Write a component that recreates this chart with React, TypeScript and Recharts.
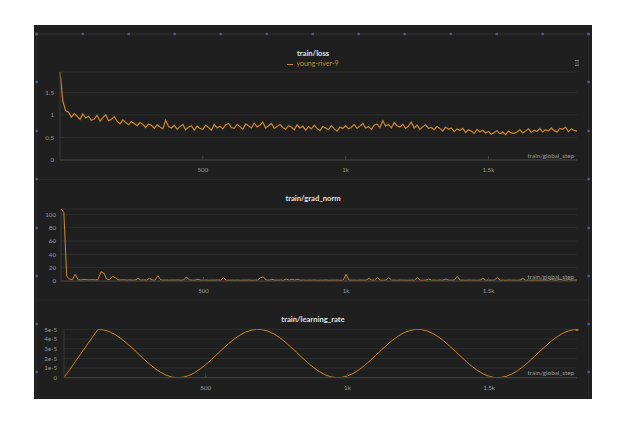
import { LineChart, Line, XAxis, YAxis, CartesianGrid } from 'recharts';

// logged every 10 steps, 0 .. 1810
const STEP_EVERY = 10;
const LR_EVERY = 20;

const lossValues = [
  1.95, 1.3, 1.09, 1.06, 0.95, 1.03, 0.97, 0.9, 1.02, 0.93,
  0.97, 0.88, 0.91, 0.99, 0.86, 0.94, 1.0, 0.87, 0.9, 0.96,
  0.86, 0.8, 0.89, 0.83, 0.78, 0.85, 0.81, 0.76, 0.83, 0.79,
  0.72, 0.8, 0.77, 0.7, 0.78, 0.73, 0.69, 0.88, 0.74, 0.71,
  0.77, 0.68, 0.74, 0.79, 0.67, 0.73, 0.76, 0.66, 0.75, 0.7,
  0.68, 0.77, 0.72, 0.66, 0.79, 0.71, 0.75, 0.69, 0.78, 0.81,
  0.72, 0.7, 0.79, 0.74, 0.68, 0.8, 0.76, 0.71, 0.82, 0.73,
  0.77, 0.84, 0.71, 0.76, 0.81, 0.7, 0.74, 0.79, 0.72, 0.68,
  0.76, 0.73, 0.67, 0.78, 0.71, 0.75, 0.66, 0.74, 0.69, 0.77,
  0.7, 0.65, 0.74, 0.71, 0.67, 0.76, 0.69, 0.64, 0.73, 0.7,
  0.76, 0.69, 0.72, 0.79, 0.7, 0.75, 0.81, 0.71, 0.74, 0.68,
  0.77, 0.8, 0.72, 0.87, 0.75, 0.79, 0.71, 0.83, 0.76, 0.73,
  0.79, 0.7, 0.75, 0.84, 0.71, 0.77, 0.68, 0.74, 0.78, 0.7,
  0.72, 0.67, 0.74, 0.7, 0.64, 0.73, 0.68, 0.71, 0.63, 0.69,
  0.66, 0.7, 0.61, 0.67, 0.64, 0.59, 0.68, 0.62, 0.66, 0.6,
  0.63, 0.57, 0.61, 0.65, 0.58, 0.62, 0.56, 0.64, 0.6, 0.59,
  0.62, 0.67, 0.6, 0.64, 0.69, 0.61, 0.66, 0.63, 0.7, 0.62,
  0.67, 0.64, 0.71, 0.65, 0.62, 0.7, 0.68, 0.73, 0.63, 0.69,
  0.66, 0.64,
];

const gradNormValues = [
  108, 103, 7, 3, 2, 10, 2, 1.5, 2.5, 1.8,
  1.6, 2, 1.5, 2.2, 14, 12, 3, 2, 7, 5,
  2, 1.5, 1.8, 1.4, 1.6, 1.3, 1.5, 4, 1.4, 1.6,
  1.3, 4, 1.5, 1.4, 8, 1.6, 1.3, 1.5, 1.2, 1.4,
  1.3, 1.5, 1.2, 1.4, 6, 1.6, 1.3, 1.2, 2.5, 1.3,
  1.2, 1.4, 1.1, 1.3, 1.2, 1.5, 1.2, 5, 1.3, 1.1,
  1.3, 1.2, 1.4, 1.1, 1.3, 1.2, 1.4, 1.1, 1.3, 1.5,
  5, 6, 1.4, 1.2, 2.5, 1.3, 1.2, 1.4, 1.1, 3,
  1.2, 2.8, 1.3, 2.5, 1.2, 1.4, 1.1, 1.3, 1.2, 1.4,
  1.1, 1.3, 1.2, 1.5, 1.1, 1.3, 1.2, 1.4, 1.1, 1.3,
  10, 1.4, 1.2, 1.3, 1.1, 1.4, 1.2, 1.3, 4, 1.2,
  1.4, 5, 1.3, 1.1, 1.4, 5, 1.2, 1.3, 1.1, 1.4,
  1.2, 1.3, 1.1, 1.4, 1.2, 5, 1.3, 1.1, 1.4, 3,
  1.2, 1.3, 1.1, 1.4, 1.2, 3, 1.3, 1.1, 1.4, 7,
  1.2, 1.3, 1.1, 1.4, 1.2, 1.3, 1.1, 1.4, 4, 1.2,
  1.3, 1.1, 1.4, 5, 1.2, 1.3, 1.1, 1.4, 1.2, 1.3,
  1.1, 1.4, 4, 1.2, 1.3, 1.1, 1.4, 1.2, 1.3, 1.1,
  1.4, 1.2, 2.5, 1.3, 1.1, 2.8, 1.2, 1.3, 2.2, 1.2,
  1.4, 1.3,
];

// learning rate in units of 1e-5, logged every 20 steps, 0 .. 1800
const lrValues = [
  0, 0.83, 1.67, 2.5, 3.33, 4.17,
  5.0, 4.94, 4.76, 4.46, 4.07, 3.6, 3.08, 2.53, 1.97, 1.45,
  0.97, 0.57, 0.27, 0.07, 0.0, 0.05, 0.22, 0.5, 0.89, 1.35,
  1.87, 2.42, 2.97, 3.5, 3.98, 4.39, 4.71, 4.91, 5.0, 4.96,
  4.8, 4.53, 4.16, 3.7, 3.19, 2.64, 2.08, 1.55, 1.06, 0.65,
  0.32, 0.1, 0.01, 0.03, 0.18, 0.44, 0.8, 1.25, 1.76, 2.31,
  2.86, 3.4, 3.89, 4.32, 4.65, 4.88, 4.99, 4.98, 4.84, 4.59,
  4.24, 3.8, 3.29, 2.75, 2.19, 1.65, 1.15, 0.72, 0.38, 0.14,
  0.02, 0.02, 0.14, 0.38, 0.72, 1.15, 1.65, 2.19, 2.75, 3.29,
  3.8, 4.24, 4.59, 4.84, 4.98,
];
const LR_LAST_STEP = 1810;
const LR_LAST_VALUE = 5.0;

const xTicks = [500, 1000, 1500];
const lossTicks = [0, 0.5, 1, 1.5];
const gradTicks = [0, 20, 40, 60, 80, 100];
const lrTicks = [0, 1, 2, 3, 4, 5];

const X_MAX = 1810;
const LINE = '#cc872e';
const BG = '#1f1f1f';
const GRID = '#2e2e2e';
const AXIS = '#444';
const TICK = '#9a9a9a';
const FONT = "Lato, 'Open Sans', sans-serif";

const lossData = lossValues.map((v, i) => ({ step: i * STEP_EVERY, value: v }));
const gradData = gradNormValues.map((v, i) => ({ step: i * STEP_EVERY, value: v }));
const lrData = lrValues
  .map((v, i) => ({ step: i * LR_EVERY, value: v }))
  .concat([{ step: LR_LAST_STEP, value: LR_LAST_VALUE }]);

const fmtStep = (v: number) => (v >= 1000 ? `${v / 1000}k` : `${v}`);
const fmtLr = (v: number) => (v === 0 ? '0' : `${v}e-5`);

const tickStyle = { fontSize: 6.2, fill: TICK, fontFamily: FONT };

const renderLastDot = (props: any) => {
  const { cx, cy, index } = props;
  if (index !== lrData.length - 1) return <g key={`d${index}`} />;
  return <circle key={`d${index}`} cx={cx} cy={cy} r={1.8} fill={LINE} />;
};

const Panel = ({ top, height, marginTop, yWidth, yGap, xHeight, data, yDomain, yTicks, yFormat, dot, width }: any) => (
  <div style={{ position: 'absolute', left: 0, top, width: 558, height }}>
    <LineChart width={558} height={height} data={data} margin={{ top: marginTop, right: 15, bottom: 0, left: 0 }}>
      <CartesianGrid horizontal vertical={false} stroke={GRID} />
      <XAxis
        dataKey="step"
        type="number"
        domain={[0, X_MAX]}
        ticks={xTicks}
        interval={0}
        tickFormatter={fmtStep}
        height={xHeight}
        stroke={AXIS}
        tickSize={-4}
        tickMargin={12}
        tick={tickStyle}
      />
      <YAxis
        type="number"
        domain={yDomain}
        ticks={yTicks}
        interval={0}
        tickFormatter={yFormat}
        width={yWidth}
        stroke="#3a3a3a"
        tickLine={false}
        tickSize={0}
        tickMargin={yGap}
        tick={tickStyle}
        allowDataOverflow
      />
      <Line
        type="linear"
        dataKey="value"
        stroke={LINE}
        strokeWidth={width || 1}
        dot={dot || false}
        activeDot={false}
        isAnimationActive={false}
      />
    </LineChart>
  </div>
);

const Title = ({ y, text }: { y: number; text: string }) => (
  <div
    style={{
      position: 'absolute',
      left: 0,
      width: 558,
      top: y - 6,
      height: 12,
      lineHeight: '12px',
      textAlign: 'center',
      color: '#e2e2e2',
      fontSize: 7.6,
      fontWeight: 700,
      fontFamily: FONT,
    }}
  >
    {text}
  </div>
);

const StepLabel = ({ y }: { y: number }) => (
  <div
    style={{
      position: 'absolute',
      right: 18,
      top: y - 5,
      height: 10,
      lineHeight: '10px',
      color: '#9a9a9a',
      fontSize: 6.3,
      fontFamily: FONT,
    }}
  >
    train/global_step
  </div>
);

const topDots = [2.7, 48.7, 94.7, 140.7, 186.7, 232.7, 278.7, 324.7, 370.7, 416.7, 462.7, 508.7, 554.7];
const sideDots = [9, 57, 106, 154, 203, 251, 299, 347];

export default function App() {
  return (
    <div
      style={{
        position: 'absolute',
        left: 34,
        top: 25,
        width: 558,
        height: 374,
        background: BG,
        overflow: 'hidden',
        fontFamily: FONT,
      }}
    >
      <svg width={558} height={374} style={{ position: 'absolute', left: 0, top: 0 }}>
        <line x1={2.7} y1={9} x2={554.7} y2={9} stroke="#333" strokeWidth={1} />
        <line x1={2.7} y1={9} x2={2.7} y2={374} stroke="#2c2c2c" strokeWidth={1} />
        <line x1={554.7} y1={9} x2={554.7} y2={374} stroke="#2c2c2c" strokeWidth={1} />
        <line x1={2.7} y1={154.5} x2={554.7} y2={154.5} stroke="#292929" strokeWidth={1} />
        <line x1={2.7} y1={275} x2={554.7} y2={275} stroke="#292929" strokeWidth={1} />
        {topDots.map((x) => (
          <rect key={`t${x}`} x={x - 1.2} y={7.8} width={2.4} height={2.4} fill="#4d5c8a" />
        ))}
        {sideDots.map((y) => (
          <g key={`s${y}`}>
            <rect x={1.5} y={y - 1.2} width={2.4} height={2.4} fill="#4d5c8a" />
            <rect x={553.5} y={y - 1.2} width={2.4} height={2.4} fill="#4d5c8a" />
          </g>
        ))}
      </svg>

      <Panel
        top={0}
        height={154}
        marginTop={47}
        yWidth={26}
        yGap={6}
        xHeight={19}
        data={lossData}
        yDomain={[0, 1.95]}
        yTicks={lossTicks}
        width={1.2}
      />
      <Panel
        top={154}
        height={121}
        marginTop={30}
        yWidth={27}
        yGap={5}
        xHeight={19}
        data={gradData}
        yDomain={[0, 108]}
        yTicks={gradTicks}
      />
      <Panel
        top={275}
        height={99}
        marginTop={29.3}
        yWidth={30}
        yGap={7}
        xHeight={21.3}
        data={lrData}
        yDomain={[0, 5]}
        yTicks={lrTicks}
        yFormat={fmtLr}
        dot={renderLastDot}
      />

      <Title y={28} text="train/loss" />
      <div
        style={{
          position: 'absolute',
          left: 0,
          width: 558,
          top: 33,
          height: 10,
          lineHeight: '10px',
          textAlign: 'center',
          color: LINE,
          fontSize: 7,
          fontFamily: FONT,
        }}
      >
        <span style={{ display: 'inline-block', width: 6, height: 1, background: LINE, verticalAlign: 'middle', marginRight: 3 }} />
        young-river-9
      </div>
      <div
        style={{
          position: 'absolute',
          left: 541,
          top: 35,
          width: 3.5,
          height: 5.5,
          background: '#3a3a3a',
          borderTop: '1px solid #777',
          borderBottom: '1px solid #777',
          boxSizing: 'border-box',
        }}
      />
      <StepLabel y={130.7} />

      <Title y={173.3} text="train/grad_norm" />
      <StepLabel y={251.7} />

      <Title y={294} text="train/learning_rate" />
      <StepLabel y={347.7} />
    </div>
  );
}
